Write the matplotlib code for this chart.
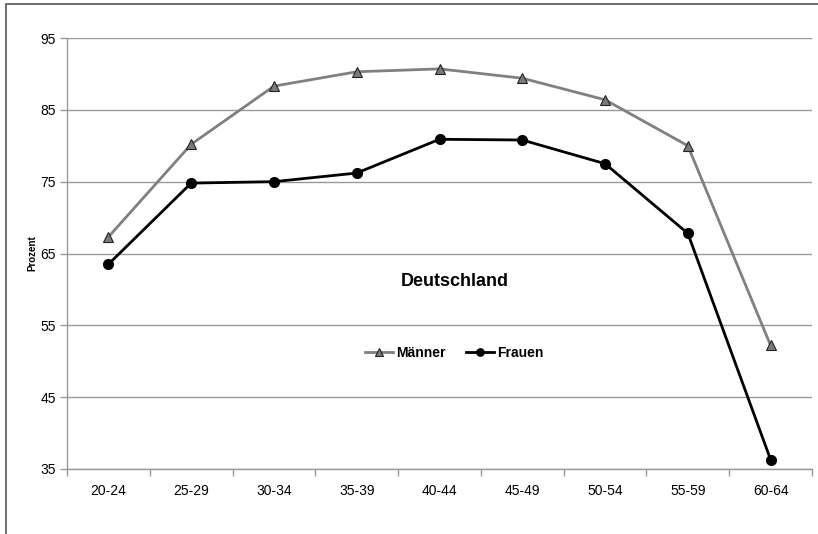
import matplotlib
matplotlib.use("Agg")
import matplotlib.pyplot as plt
from matplotlib.patches import Rectangle
import numpy as np

plt.rcParams["font.family"] = ["Liberation Sans", "DejaVu Sans"]

# ── Daten: Erwerbsquoten nach Altersgruppe ──────────────
altersgruppen = ["20-24", "25-29", "30-34", "35-39", "40-44",
                 "45-49", "50-54", "55-59", "60-64"]
maenner = [67.3, 80.2, 88.3, 90.3, 90.7, 89.4, 86.4, 80.0, 52.2]
frauen = [63.5, 74.8, 75.0, 76.2, 80.9, 80.8, 77.5, 67.8, 36.3]
y_ticks = [35, 45, 55, 65, 75, 85, 95]

fig = plt.figure(figsize=(8.18, 5.34), dpi=100)
ax = fig.add_axes([67 / 818, 1 - 469 / 534, 745 / 818, 431 / 534])

# Rahmen um die gesamte Grafik
fig.patches.append(Rectangle((6 / 818, -0.1), 1.2, 1 - 4 / 534 + 0.1,
                             transform=fig.transFigure, fill=False,
                             edgecolor="#555555", linewidth=1.2))

x = np.arange(len(altersgruppen))
ax.plot(x, maenner, color="#808080", linewidth=2, marker="^", markersize=7,
        markerfacecolor="#7a7a7a", markeredgecolor="#222222",
        markeredgewidth=0.8, label="Männer", zorder=3)
ax.plot(x, frauen, color="black", linewidth=2, marker="o", markersize=7,
        markerfacecolor="black", markeredgecolor="black",
        label="Frauen", zorder=4)

ax.set_xlim(-0.5, len(altersgruppen) - 0.5)
ax.set_ylim(35, 95)
ax.set_yticks(y_ticks)
ax.set_xticks(x)
ax.set_xticklabels(altersgruppen)
ax.set_xticks(np.arange(-0.5, len(altersgruppen)), minor=True)
ax.tick_params(axis="x", which="major", length=0, pad=11, labelsize=10)
ax.tick_params(axis="x", which="minor", length=5, color="#999999", width=1)
ax.tick_params(axis="y", length=5, color="#999999", width=1, labelsize=10, pad=3)

ax.grid(True, axis="y", color="#999999", linewidth=1)
ax.set_axisbelow(True)
for side in ["top", "right"]:
    ax.spines[side].set_visible(False)
for side in ["left", "bottom"]:
    ax.spines[side].set_color("#999999")
    ax.spines[side].set_linewidth(1)

ax.set_ylabel("Prozent", fontsize=7, fontweight="bold", labelpad=2)

ax.text(0.52, 0.435, "Deutschland", transform=ax.transAxes,
        ha="center", va="center", fontsize=13, fontweight="bold")

ax.legend(loc="center", bbox_to_anchor=(0.52, 0.27), ncol=2, frameon=False,
          prop={"weight": "bold", "size": 10}, handlelength=2.0,
          handletextpad=0.2, columnspacing=1.5, markerscale=0.75)

fig.savefig("out.png", dpi=100)
